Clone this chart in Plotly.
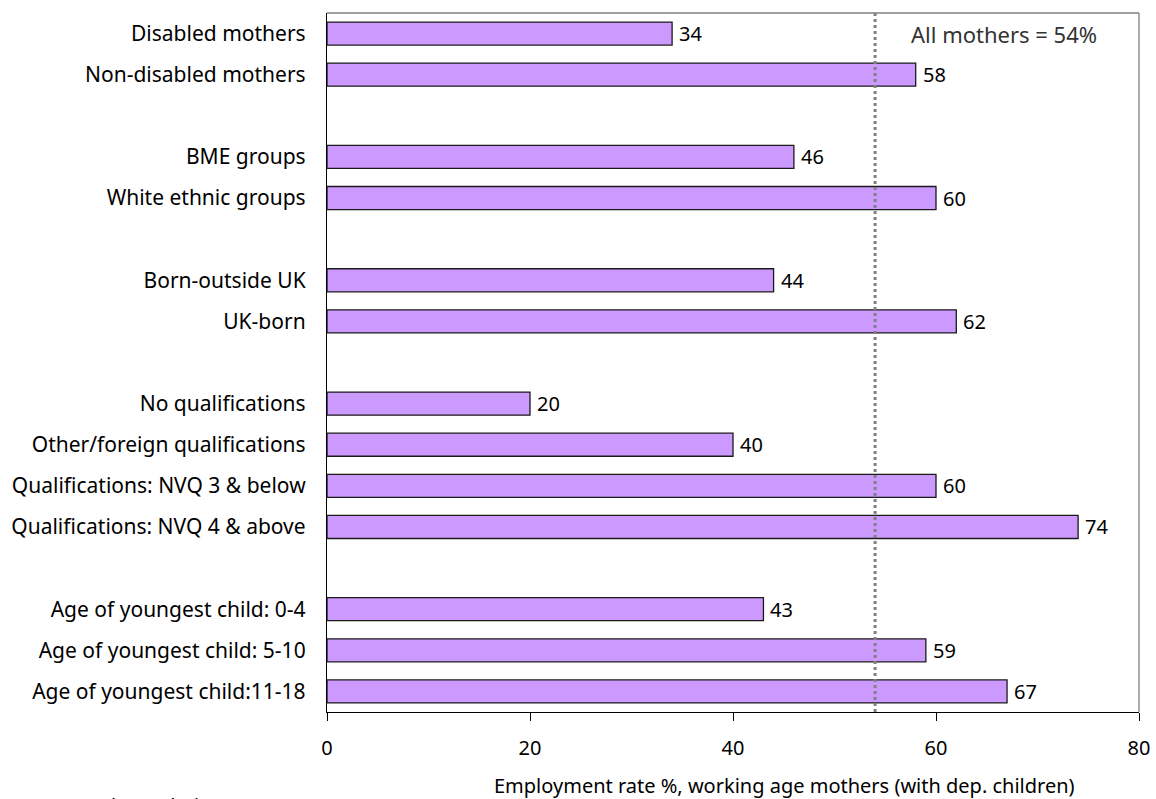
import plotly.graph_objects as go

# Employment rates of working-age mothers (with dependent children), by group
categories = [
    "Disabled mothers",
    "Non-disabled mothers",
    "BME groups",
    "White ethnic groups",
    "Born-outside UK",
    "UK-born",
    "No qualifications",
    "Other/foreign qualifications",
    "Qualifications: NVQ 3 & below",
    "Qualifications: NVQ 4 & above",
    "Age of youngest child: 0-4",
    "Age of youngest child: 5-10",
    "Age of youngest child:11-18",
]
rates = [34, 58, 46, 60, 44, 62, 20, 40, 60, 74, 43, 59, 67]
# Row slots, leaving an empty slot between each group
slots = [0, 1, 3, 4, 6, 7, 9, 10, 11, 12, 14, 15, 16]
all_mothers = 54
x_ticks = [0, 20, 40, 60, 80]

FONT = "Noto Sans"
SIZE = 20

# Plot area in pixels
L, R, T, B = 327, 1139, 13, 712
W, H = 1156, 799
PH = B - T

fig = go.Figure()
fig.add_trace(go.Bar(
    x=rates,
    y=slots,
    orientation="h",
    width=0.56,
    marker=dict(color="#CC99FF", line=dict(color="#1a1a1a", width=1.3)),
    hoverinfo="skip",
))

# Value labels just past each bar end
for v, s in zip(rates, slots):
    fig.add_annotation(
        x=v, y=s, xref="x", yref="y", xanchor="left", yanchor="middle",
        xshift=5, text=str(v), showarrow=False,
        font=dict(family=FONT, size=SIZE, color="#000000"),
    )

# Overall rate for all mothers
fig.add_shape(
    type="line", xref="x", yref="y domain",
    x0=all_mothers, x1=all_mothers, y0=0, y1=1,
    line=dict(color="#808080", width=3, dash="dot"),
)
fig.add_annotation(
    x=(1099 - L) / (R - L), xref="x domain", y=0, yref="y",
    xanchor="right", yanchor="middle",
    text=f"All mothers = {all_mothers}%", showarrow=False,
    font=dict(family=FONT, size=22, color="#333333"),
)

# Axis title
fig.add_annotation(
    x=(784 - L) / (R - L), xref="x domain",
    y=-(785 - B) / PH, yref="y domain", yanchor="middle",
    text="Employment rate %, working age mothers (with dep. children)",
    showarrow=False,
    font=dict(family=FONT, size=SIZE, color="#000000"),
)

# Source note along the bottom edge
fig.add_annotation(
    x=(48 - L) / (R - L), xref="x domain",
    y=-(790 - B) / PH, yref="y domain",
    xanchor="left", yanchor="top",
    text="Annual Population Survey, Jan-Dec 2007)",
    showarrow=False,
    font=dict(family=FONT, size=SIZE, color="#000000"),
)

fig.update_layout(
    width=W, height=H,
    margin=dict(l=L, r=W - R, t=T, b=H - B, autoexpand=False),
    paper_bgcolor="#FFFFFF",
    plot_bgcolor="#FFFFFF",
    showlegend=False,
    font=dict(family=FONT, size=SIZE, color="#000000"),
    xaxis=dict(
        range=[0, 80],
        automargin=False,
        tickvals=x_ticks,
        ticktext=[str(t) for t in x_ticks],
        ticks="outside", ticklen=8, tickcolor="#000000", tickwidth=1,
        ticklabelstandoff=10,
        showgrid=False, zeroline=False,
        showline=True, linecolor="#000000", linewidth=1.3,
        tickfont=dict(family=FONT, size=SIZE),
    ),
    yaxis=dict(
        range=[16.5, -0.5],
        automargin=False,
        tickvals=slots,
        ticktext=categories,
        ticks="",
        ticklabelstandoff=16,
        showgrid=False, zeroline=False,
        showline=True, linecolor="#000000", linewidth=1.3,
        tickfont=dict(family=FONT, size=21),
    ),
)
# Grey frame on the top and right sides of the plot area
fig.add_shape(type="line", xref="x domain", yref="y domain", x0=0, x1=1, y0=1, y1=1,
              line=dict(color="#808080", width=1.3))
fig.add_shape(type="line", xref="x domain", yref="y domain", x0=1, x1=1, y0=0, y1=1,
              line=dict(color="#808080", width=1.3))

fig.write_html("out.html")
